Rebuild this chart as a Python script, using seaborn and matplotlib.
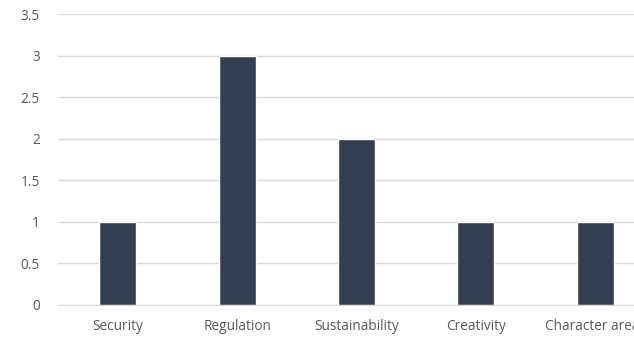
import matplotlib
matplotlib.use("Agg")
import matplotlib.pyplot as plt
import seaborn as sns
import pandas as pd

categories = ["Security", "Regulation", "Sustainability", "Creativity", "Character areas"]
values = [1, 3, 2, 1, 1]
yticks = [0, 0.5, 1, 1.5, 2, 2.5, 3, 3.5]
ytick_labels = ["0", "0.5", "1", "1.5", "2", "2.5", "3", "3.5"]

sns.set_style("white")
plt.rcParams['font.family'] = ['Open Sans', 'DejaVu Sans']

df = pd.DataFrame({"cat": categories, "val": values})

W, H = 634, 337
fig = plt.figure(figsize=(W / 100, H / 100), dpi=100)
left, right_px, top, bottom = 58, 655, 14, 305
ax = fig.add_axes([left / W, 1 - bottom / H, (right_px - left) / W, (bottom - top) / H])

sns.barplot(data=df, x="cat", y="val", color="#333F50", width=0.31, ax=ax, saturation=1)

ax.set_xlim(-0.5, len(categories) - 0.5)
ax.set_ylim(0, 3.5)
ax.set_yticks(yticks)
ax.set_yticklabels(ytick_labels)
ax.yaxis.grid(True, color="#D9D9D9", linewidth=1)
ax.set_axisbelow(True)
for s in ax.spines.values():
    s.set_visible(False)
ax.spines['bottom'].set_visible(True)
ax.spines['bottom'].set_color("#D9D9D9")
ax.set_xlabel("")
ax.set_ylabel("")
ax.tick_params(axis='both', length=0, labelsize=9.8, colors="#595959")
ax.tick_params(axis='y', pad=13)
ax.tick_params(axis='x', pad=10)

fig.savefig("out.png", dpi=100)
